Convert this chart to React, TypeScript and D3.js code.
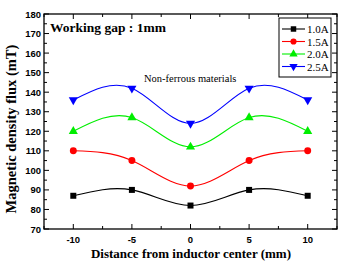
import React, { useEffect, useRef } from 'react';
import * as d3 from 'd3';

const positions = [-10, -5, 0, 5, 10];
const seriesNames = ['1.0A', '1.5A', '2.0A', '2.5A'];
const flux10 = [87, 90, 82, 90, 87];
const flux15 = [110, 105, 92, 105, 110];
const flux20 = [120, 127, 112, 127, 120];
const flux25 = [136, 142, 124, 142, 136];
const colors = ['#000000', '#ff0000', '#00ee00', '#0000ff'];
const symbols = [d3.symbolSquare, d3.symbolCircle, d3.symbolTriangle, d3.symbolTriangle];
const yTicks = [70, 80, 90, 100, 110, 120, 130, 140, 150, 160, 170, 180];

const App = () => {
  const ref = useRef(null);

  useEffect(() => {
    const width = 339;
    const height = 264;
    const left = 44, right = 337, top = 14, bottom = 229;
    const all = [flux10, flux15, flux20, flux25];

    const root = d3.select(ref.current);
    root.selectAll('*').remove();
    const svg = root.append('svg').attr('width', width).attr('height', height)
      .style('display', 'block').style('background', 'white');

    const x = d3.scaleLinear().domain([-12.5, 12.5]).range([left, right]);
    const y = d3.scaleLinear().domain([70, 180]).range([bottom, top]);

    const sans = 'Liberation Sans, Arial, sans-serif';
    const serif = 'Liberation Serif, Times New Roman, serif';

    // axes
    const majorX = positions;
    const minorX = d3.range(-12.5, 12.6, 2.5).filter(v => !majorX.includes(v));
    const minorY = d3.range(75, 180, 10);

    const g = svg.append('g').attr('stroke', '#000').attr('stroke-width', 1);
    g.append('rect').attr('x', left).attr('y', top).attr('width', right - left).attr('height', bottom - top)
      .attr('fill', 'none').attr('stroke-width', 1.3);
    majorX.forEach(v => {
      g.append('line').attr('x1', x(v)).attr('x2', x(v)).attr('y1', bottom).attr('y2', bottom - 5);
      g.append('line').attr('x1', x(v)).attr('x2', x(v)).attr('y1', top).attr('y2', top + 5);
    });
    minorX.forEach(v => {
      g.append('line').attr('x1', x(v)).attr('x2', x(v)).attr('y1', bottom).attr('y2', bottom - 3);
      g.append('line').attr('x1', x(v)).attr('x2', x(v)).attr('y1', top).attr('y2', top + 3);
    });
    yTicks.forEach(v => {
      g.append('line').attr('x1', left).attr('x2', left + 5).attr('y1', y(v)).attr('y2', y(v));
      g.append('line').attr('x1', right).attr('x2', right - 5).attr('y1', y(v)).attr('y2', y(v));
    });
    minorY.forEach(v => {
      g.append('line').attr('x1', left).attr('x2', left + 3).attr('y1', y(v)).attr('y2', y(v));
      g.append('line').attr('x1', right).attr('x2', right - 3).attr('y1', y(v)).attr('y2', y(v));
    });

    svg.selectAll('.yl').data(yTicks).enter().append('text')
      .attr('x', left - 3).attr('y', d => y(d) + 3.5).attr('text-anchor', 'end')
      .attr('font-family', sans).attr('font-weight', 'bold').attr('font-size', 9.5)
      .text(d => d);
    svg.selectAll('.xl').data(positions).enter().append('text')
      .attr('x', d => x(d)).attr('y', bottom + 14).attr('text-anchor', 'middle')
      .attr('font-family', sans).attr('font-weight', 'bold').attr('font-size', 9.5)
      .text(d => d);

    svg.append('text').attr('x', 191).attr('y', 258).attr('text-anchor', 'middle')
      .attr('font-family', serif).attr('font-weight', 'bold').attr('font-size', 13)
      .text('Distance from inductor center (mm)');
    svg.append('text').attr('transform', `translate(16,129) rotate(-90)`)
      .attr('text-anchor', 'middle')
      .attr('font-family', serif).attr('font-weight', 'bold').attr('font-size', 14.5)
      .text('Magnetic density flux (mT)');

    svg.append('text').attr('x', 50).attr('y', 32)
      .attr('font-family', serif).attr('font-weight', 'bold').attr('font-size', 13.5)
      .text('Working gap : 1mm');
    svg.append('text').attr('x', 144).attr('y', 82)
      .attr('font-family', serif).attr('font-size', 10.5)
      .text('Non-ferrous materials');

    const line = d3.line<number>()
      .x((d, i) => x(positions[i]))
      .y(d => y(d))
      .curve(d3.curveNatural);

    all.forEach((vals, k) => {
      svg.append('path').attr('d', line(vals)).attr('fill', 'none')
        .attr('stroke', colors[k]).attr('stroke-width', 1.1);
      const sym = d3.symbol().type(symbols[k]).size(k === 1 ? 38 : 36);
      svg.selectAll(`.m${k}`).data(vals).enter().append('path')
        .attr('d', sym)
        .attr('transform', (d, i) => `translate(${x(positions[i])},${y(d)})${k === 3 ? ' rotate(180)' : ''}`)
        .attr('fill', colors[k]).attr('stroke', 'none');
    });

    // legend
    const lg = svg.append('g');
    lg.append('rect').attr('x', 279).attr('y', 18).attr('width', 52).attr('height', 59)
      .attr('fill', 'white').attr('stroke', '#000').attr('stroke-width', 1);
    seriesNames.forEach((name, k) => {
      const ly = 29 + k * 12.5;
      lg.append('line').attr('x1', 282).attr('x2', 305).attr('y1', ly).attr('y2', ly)
        .attr('stroke', colors[k]).attr('stroke-width', 1.1);
      lg.append('path').attr('d', d3.symbol().type(symbols[k]).size(30)())
        .attr('transform', `translate(293.5,${ly})${k === 3 ? ' rotate(180)' : ''}`)
        .attr('fill', colors[k]);
      lg.append('text').attr('x', 307).attr('y', ly + 4)
        .attr('font-family', serif).attr('font-size', 11)
        .text(name);
    });
  }, []);

  return <div ref={ref} style={{ position: 'absolute', left: 0, top: 0 }}></div>;
};

export default App;
